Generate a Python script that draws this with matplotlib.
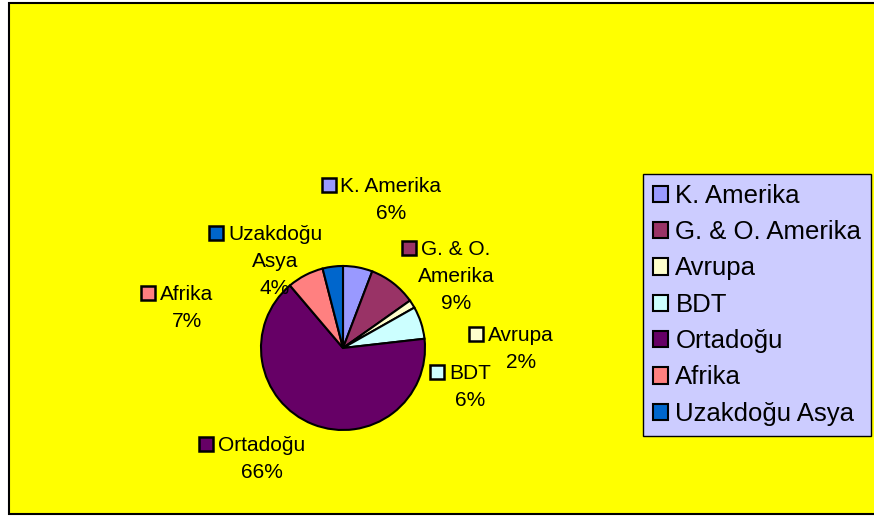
import matplotlib
matplotlib.use("Agg")
from matplotlib import pyplot as plt
from matplotlib.patches import Rectangle

plt.rcParams['font.family'] = ['Liberation Sans', 'DejaVu Sans']

regions = ["K. Amerika", "G. & O. Amerika", "Avrupa", "BDT", "Ortadoğu", "Afrika", "Uzakdoğu Asya"]
label_names = ["K. Amerika", "G. & O.\nAmerika", "Avrupa", "BDT", "Ortadoğu", "Afrika", "Uzakdoğu\nAsya"]
shares = [5.8, 9.4, 1.6, 6.4, 65.6, 7.2, 4.0]
colors = ["#9999FF", "#993366", "#FFFFCC", "#CCFFFF", "#660066", "#FF8080", "#0066CC"]

# label placement, pixels from top-left: (text centre x, first line centre y)
label_xy = [(391, 185), (456, 248), (521, 334), (470, 372), (262, 444), (187, 293), (275, 233)]

W, H = 874, 516
fig = plt.figure(figsize=(W / 100, H / 100), dpi=100, facecolor="white")
ax = fig.add_axes([0, 0, 1, 1])

# yellow chart area with black frame
ax.add_patch(Rectangle((9, 2), 900, 511, facecolor="#FFFF00", edgecolor="black", lw=1.5, zorder=0))

wedges, _ = ax.pie(shares, colors=colors, startangle=90, counterclock=False,
                   center=(343, H - 348), radius=82,
                   wedgeprops=dict(edgecolor="black", linewidth=1.5))
ax.set_xlim(0, W)
ax.set_ylim(0, H)
ax.set_aspect("equal")
ax.axis("off")

total = sum(shares)
fs = 15
gap = 27
renderer = fig.canvas.get_renderer()
for name, v, c, (cx, cy) in zip(label_names, shares, colors, label_xy):
    lines = name.split("\n") + [f"{v / total * 100:.0f}%"]
    for i, line in enumerate(lines):
        t = ax.text(cx, H - (cy + 7 + i * gap), line, ha="center", va="baseline", fontsize=fs)
        if i == 0:
            bb = t.get_window_extent(renderer)
            ax.add_patch(Rectangle((bb.x0 - 19, H - cy - 7), 14, 14,
                                   facecolor=c, edgecolor="black", lw=1.8))

leg = ax.legend(wedges, regions, loc="upper left", bbox_to_anchor=(643, H - 174),
                bbox_transform=ax.transData, fontsize=18.5, frameon=True, fancybox=False,
                facecolor="#CCCCFF", edgecolor="black", framealpha=1, borderaxespad=0,
                handlelength=0.6, handleheight=0.6, handletextpad=0.28,
                labelspacing=0.48, borderpad=0.38)
leg.get_frame().set_linewidth(1)

fig.savefig("out.png", dpi=100, facecolor=fig.get_facecolor())
